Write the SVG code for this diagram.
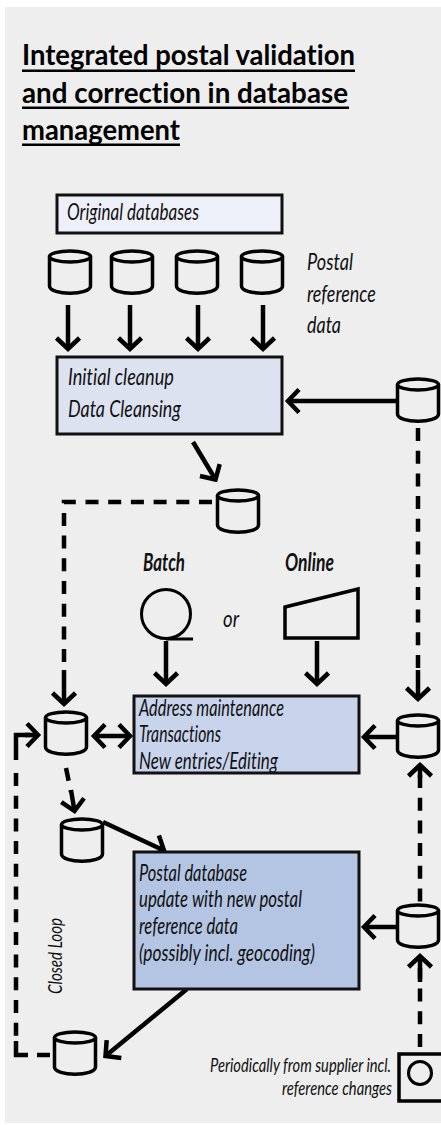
<svg xmlns="http://www.w3.org/2000/svg" width="441" height="1125" viewBox="0 0 441 1125">
<style>
text{font-family:"Lato","Liberation Sans",sans-serif;font-style:italic;font-weight:400;font-size:24px;fill:#111;font-variant-ligatures:none}
.t{font-style:normal;font-weight:700;font-size:28px;fill:#000}
.b{font-weight:700}
.s{font-size:20px}
.box{stroke:#111;stroke-width:3}
.c{fill:none;stroke:#000;stroke-width:4.500;marker-end:url(#h)}
.d{fill:none;stroke:#000;stroke-width:4.500;stroke-dasharray:13 9.700}
.l{fill:none;stroke:#000;stroke-width:4.500}
.o{fill:none;stroke:#000;stroke-width:3}
</style>
<defs>
<marker id="h" markerUnits="userSpaceOnUse" viewBox="-20 -20 30 40" refX="0" refY="0" markerWidth="30" markerHeight="40" orient="auto-start-reverse" overflow="visible"><path d="M-11,-11.500 L0,0 L-11,11.500" fill="none" stroke="#000" stroke-width="4.500"/></marker>
<g id="cyl"><path d="M-20.500,7.500 V37 C-20.500,46.500 20.500,46.500 20.500,37 V7.500" fill="none" stroke="#000" stroke-width="3.500"/><ellipse cx="0" cy="7.500" rx="20.500" ry="5.500" fill="none" stroke="#000" stroke-width="3.500"/></g>
</defs>
<rect x="5" y="7" width="436" height="1116" fill="#eeeeee"/>
<g id="title">
<text class="t" x="22" y="65" textLength="333" lengthAdjust="spacingAndGlyphs">Integrated postal validation</text>
<text class="t" x="22" y="103" textLength="326" lengthAdjust="spacingAndGlyphs">and correction in database</text>
<text class="t" x="22" y="140" textLength="158" lengthAdjust="spacingAndGlyphs">management</text>
<rect x="22" y="69.500" width="333" height="2.500"/>
<rect x="22" y="106.500" width="327" height="2.500"/>
<rect x="22" y="143.500" width="158" height="2.500"/>
</g>
<g id="connectors">
<path class="c" d="M68,305V349"/><path class="c" d="M130,305V349"/><path class="c" d="M198,305V349"/><path class="c" d="M263,305V349"/>
<path class="c" d="M396,401H288"/>
<path class="c" d="M193,442L215.500,479.500"/>
<path class="d" d="M418,428V672"/><path class="c" d="M418,670V699"/>
<path class="d" d="M212,502H64V672"/><path class="c" d="M64,670V704"/>
<path class="c" d="M166,641V684"/><path class="c" d="M317,641V684"/>
<path class="c" d="M396,737H364"/>
<path class="c" d="M396,927H364"/>
<path class="c" d="M94,736H130" style="marker-start:url(#h)"/>
<path class="l" d="M14,735H30"/><path class="c" d="M25,735H38"/>
<path class="l" d="M16,733V760"/>
<path class="d" d="M16,773V1040"/>
<path class="l" d="M28,1055H16V1041"/><path class="l" d="M37,1055H50"/>
<path class="d" d="M66,768L71,792"/><path class="c" d="M71,790L74.500,811"/>
<path class="c" d="M103,822L164,850.500"/>
<path class="c" d="M187,989L105.500,1056"/>
<path class="d" d="M420,775V902"/><path class="c" d="M420,778V765"/>
<path class="d" d="M420,1047V968"/><path class="c" d="M420,982V956"/>
</g>
<g id="original-databases"><rect class="box" x="57" y="195" width="225" height="38" fill="#eef0f9"/><text transform="translate(67,220) scale(.72,1)" textLength="183.300" lengthAdjust="spacingAndGlyphs">Original databases</text></g>
<g id="db-1"><use href="#cyl" x="70" y="249"/></g>
<g id="db-2"><use href="#cyl" x="132" y="249"/></g>
<g id="db-3"><use href="#cyl" x="197" y="249"/></g>
<g id="db-4"><use href="#cyl" x="262" y="249"/></g>
<g id="postal-reference-label">
<text transform="translate(307,270) scale(.72,1)" textLength="63.900" lengthAdjust="spacingAndGlyphs">Postal</text>
<text transform="translate(307,302) scale(.72,1)" textLength="95.800" lengthAdjust="spacingAndGlyphs">reference</text>
<text transform="translate(307,333) scale(.72,1)" textLength="47.200" lengthAdjust="spacingAndGlyphs">data</text>
</g>
<g id="initial-cleanup"><rect class="box" x="57" y="357" width="225" height="77" fill="#dde2f1"/>
<text transform="translate(68,385) scale(.72,1)" textLength="147.200" lengthAdjust="spacingAndGlyphs">Initial cleanup</text>
<text transform="translate(68,417) scale(.72,1)" textLength="156.900" lengthAdjust="spacingAndGlyphs">Data Cleansing</text></g>
<g id="db-reference-1"><use href="#cyl" x="418" y="377"/></g>
<g id="db-cleansed"><use href="#cyl" x="238" y="488"/></g>
<g id="batch"><text class="b" transform="translate(143,571) scale(.72,1)" textLength="58.300" lengthAdjust="spacingAndGlyphs">Batch</text>
<circle class="o" cx="166" cy="614" r="24.500"/><path class="o" d="M166,639H193"/></g>
<g id="or"><text transform="translate(223,627) scale(.72,1)" textLength="22.200" lengthAdjust="spacingAndGlyphs">or</text></g>
<g id="online"><text class="b" transform="translate(285,571) scale(.72,1)" textLength="68" lengthAdjust="spacingAndGlyphs">Online</text>
<path d="M285,607L358,589V638H285Z" fill="none" stroke="#000" stroke-width="3.500"/></g>
<g id="db-left"><use href="#cyl" x="66" y="710"/></g>
<g id="address-maintenance"><rect class="box" x="134" y="696" width="225" height="77" fill="#c8d3ec"/>
<text transform="translate(139,716) scale(.72,1)" textLength="201.400" lengthAdjust="spacingAndGlyphs">Address maintenance</text>
<text transform="translate(139,742) scale(.72,1)" textLength="113.900" lengthAdjust="spacingAndGlyphs">Transactions</text>
<text transform="translate(139,769) scale(.72,1)" textLength="193" lengthAdjust="spacingAndGlyphs">New entries/Editing</text></g>
<g id="db-reference-2"><use href="#cyl" x="418" y="713"/></g>
<g id="db-extract"><use href="#cyl" x="82" y="817"/></g>
<g id="postal-database"><rect class="box" x="134" y="852" width="225" height="137" fill="#b4c5e3"/>
<text transform="translate(139,881) scale(.72,1)" textLength="150" lengthAdjust="spacingAndGlyphs">Postal database</text>
<text transform="translate(139,907) scale(.72,1)" textLength="226.400" lengthAdjust="spacingAndGlyphs">update with new postal</text>
<text transform="translate(139,934) scale(.72,1)" textLength="137.500" lengthAdjust="spacingAndGlyphs">reference data</text>
<text transform="translate(139,961) scale(.72,1)" textLength="244.400" lengthAdjust="spacingAndGlyphs">(possibly incl. geocoding)</text></g>
<g id="db-reference-3"><use href="#cyl" x="418" y="903"/></g>
<g id="db-closed-loop"><use href="#cyl" x="75" y="1030"/></g>
<g id="closed-loop-label"><text class="s" transform="translate(62,994) rotate(-90) scale(.72,1)" textLength="105.600" lengthAdjust="spacingAndGlyphs">Closed Loop</text></g>
<g id="supplier"><text class="s" transform="translate(210,1072) scale(.72,1)" textLength="251.400" lengthAdjust="spacingAndGlyphs">Periodically from supplier incl.</text>
<text class="s" transform="translate(282,1095) scale(.72,1)" textLength="152.800" lengthAdjust="spacingAndGlyphs">reference changes</text>
<path d="M443,1054H399V1101H443" fill="none" stroke="#000" stroke-width="3.500"/><circle class="o" cx="420" cy="1073" r="11.500"/></g>
</svg>
